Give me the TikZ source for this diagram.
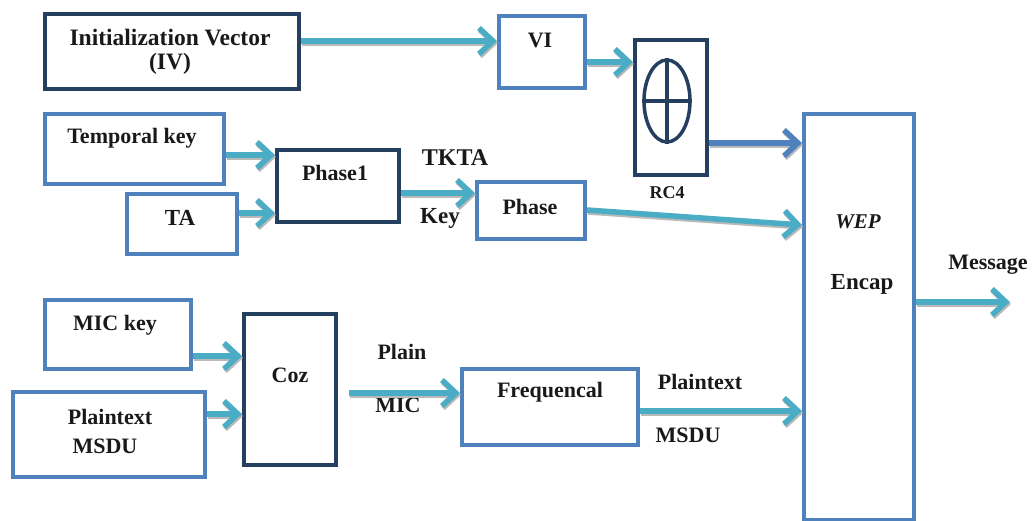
\documentclass[tikz,border=0pt]{standalone}
\usepackage{fontspec}
\setmainfont{Liberation Serif}
\usetikzlibrary{arrows.meta,shapes.geometric}
\definecolor{lb}{HTML}{4F81BD}
\definecolor{db}{HTML}{243F60}
\definecolor{tl}{HTML}{4BACC6}
\begin{document}
\begin{tikzpicture}[x=1pt,y=-1pt,
  lbox/.style={draw=lb,line width=4pt,anchor=north west,inner sep=0pt},
  dbox/.style={draw=db,line width=4pt,anchor=north west,inner sep=0pt},
  txt/.style={font=\fontsize{22}{24}\selectfont\bfseries,inner sep=0pt,text=black!90},
  flow/.style={draw=#1,line width=5.5pt,-{Straight Barb[length=14pt,width=26pt]},
    preaction={draw=gray!55,line width=5.5pt,-{Straight Barb[length=14pt,width=26pt]},transform canvas={shift={(1pt,-2pt)}}}},
  flow/.default=tl]
\useasboundingbox (0,0) rectangle (1032,521);
% labels
\node[txt,font=\fontsize{23.5}{26}\selectfont\bfseries] (ivt1) at (170,38) {Initialization Vector};
\node[txt,font=\fontsize{23.5}{26}\selectfont\bfseries] (ivt2) at (170,64) {(IV)};
\node[txt] (vit) at (540,40) {VI};
\node[txt,font=\fontsize{18}{20}\selectfont\bfseries] (rc4t) at (667,193) {RC4};
\node[txt,font=\fontsize{21}{24}\selectfont\bfseries\itshape] (wept) at (858,222) {WEP};
\node[txt,font=\fontsize{23}{26}\selectfont\bfseries] (encapt) at (862,284) {Encap};
\node[txt] (tkt) at (132,138) {Temporal key};
\node[txt,font=\fontsize{23}{26}\selectfont\bfseries] (tat) at (180,218) {TA};
\node[txt] (ph1t) at (335,173) {Phase1};
\node[txt,font=\fontsize{24}{26}\selectfont\bfseries] (tkta) at (455,158) {TKTA};
\node[txt,font=\fontsize{23}{26}\selectfont\bfseries] (keyt) at (440,218) {Key};
\node[txt] (pht) at (530,207) {Phase};
\node[txt] (mict) at (115,325) {MIC key};
\node[txt] (pmt1) at (110,417) {Plaintext};
\node[txt] (pmt2) at (105,446) {MSDU};
\node[txt] (cozt) at (290,375) {Coz};
\node[txt] (plaint) at (402,352) {Plain};
\node[txt] (micl) at (398,405) {MIC};
\node[txt] (frt) at (550,392) {Frequencal};
\node[txt] (ptl) at (700,382) {Plaintext};
\node[txt] (msdul) at (688,435) {MSDU};
\node[txt] (msgt) at (988,265) {Message};
% boxes
\node[dbox,minimum width=254,minimum height=75] (iv) at (43,12) {};
\node[lbox,minimum width=86,minimum height=72] (vi) at (497,14) {};
\node[dbox,minimum width=72,minimum height=135] (rc4) at (633,38) {};
\node[draw=db,line width=3.5pt,ellipse,minimum width=46,minimum height=82,inner sep=0pt] (xor) at (667,101) {};
\draw[db,line width=3.5pt] (xor.north) -- (xor.south) (xor.west) -- (xor.east);
\node[lbox,minimum width=110,minimum height=406] (encap) at (802,112) {};
\node[lbox,minimum width=179,minimum height=70] (tk) at (43,112) {};
\node[lbox,minimum width=110,minimum height=60] (ta) at (125,192) {};
\node[dbox,minimum width=122,minimum height=72] (ph1) at (275,148) {};
\node[lbox,minimum width=108,minimum height=57] (ph) at (475,180) {};
\node[lbox,minimum width=146,minimum height=69] (mic) at (43,298) {};
\node[lbox,minimum width=192,minimum height=85] (pm) at (11,390) {};
\node[dbox,minimum width=92,minimum height=151] (coz) at (242,312) {};
\node[lbox,minimum width=176,minimum height=76] (fr) at (460,367) {};
\coordinate (msg) at (1010,302);
% arrows
\draw[flow] (iv.east |- 0,41) -- (vi.west |- 0,41);
\draw[flow] (vi.east |- 0,62) -- (rc4.west |- 0,62);
\draw[flow=lb] (rc4.east |- 0,143) -- (encap.west |- 0,143);
\draw[flow] (ph.east |- 0,210) -- (encap.west |- 0,225);
\draw[flow] (tk.east |- 0,155) -- (ph1.west |- 0,155);
\draw[flow] (ta.east |- 0,213) -- (ph1.west |- 0,213);
\draw[flow] (ph1.east |- 0,193) -- (ph.west |- 0,193);
\draw[flow] (mic.east |- 0,356) -- (coz.west |- 0,356);
\draw[flow] (pm.east |- 0,414) -- (coz.west |- 0,414);
\draw[flow,shorten <=11pt] (coz.east |- 0,393) -- (fr.west |- 0,393);
\draw[flow] (fr.east |- 0,411) -- (encap.west |- 0,411);
\draw[flow] (encap.east |- 0,302) -- (msg);
\end{tikzpicture}
\end{document}
